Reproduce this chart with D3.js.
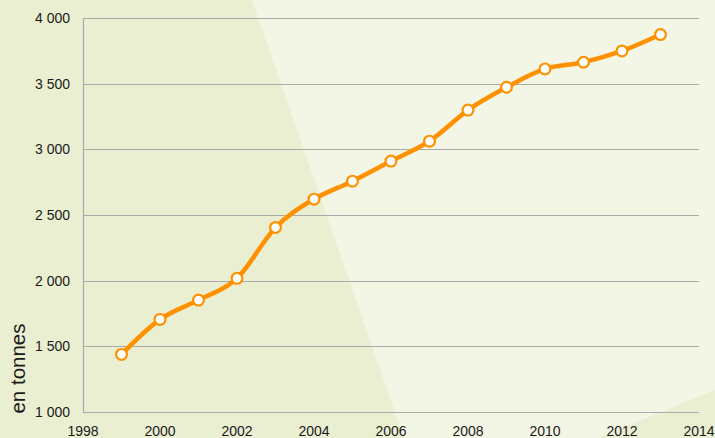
<!DOCTYPE html>
<html><head><meta charset="utf-8">
<script src="https://cdn.jsdelivr.net/npm/d3@7"></script>
<style>body{margin:0;background:#f3f6e4;}svg{display:block;}</style>
</head><body>
<svg id="c" width="715" height="438"></svg>
<script>
const years = [1999,2000,2001,2002,2003,2004,2005,2006,2007,2008,2009,2010,2011,2012,2013];
const values = [1437,1704,1851,2017,2405,2621,2758,2911,3063,3300,3474,3614,3665,3751,3876];
const yTicks = [1000,1500,2000,2500,3000,3500,4000];
const xTicks = [1998,2000,2002,2004,2006,2008,2010,2012,2014];
const yTitle = "en tonnes";

const svg = d3.select("#c");
const W = 715, H = 438;
const m = {l:83, r:16, t:18.3, b:26.3};
const x = d3.scaleLinear().domain([1998,2014]).range([m.l, W-m.r]);
const y = d3.scaleLinear().domain([1000,4000]).range([H-m.b, m.t]);

// background
svg.append("rect").attr("width",W).attr("height",H).attr("fill","#f3f6e4");
svg.append("polygon").attr("points","0,0 252,0 404,438 0,438").attr("fill","#eaefd2");
svg.append("polygon").attr("points","715,390 715,438 598,438").attr("fill","#eaefd2");

// grid
svg.append("g").selectAll("line").data(yTicks).join("line")
  .attr("x1",m.l).attr("x2",W-m.r)
  .attr("y1",d=>Math.round(y(d))+0.5).attr("y2",d=>Math.round(y(d))+0.5)
  .attr("stroke","#aaaaaa").attr("stroke-width",1.2);
svg.append("line").attr("x1",m.l+0.5).attr("x2",m.l+0.5)
  .attr("y1",y(4000)).attr("y2",y(1000)).attr("stroke","#aaaaaa").attr("stroke-width",1.2);

// y labels
svg.append("g").selectAll("text").data(yTicks).join("text")
  .attr("x",70).attr("y",d=>y(d)+5).attr("text-anchor","end")
  .attr("font-family","Liberation Sans, Arial, sans-serif").attr("font-size",14)
  .attr("fill","#1a1a1a").text(d=>d3.format(",")(d).replace(","," "));
// x labels
svg.append("g").selectAll("text").data(xTicks).join("text")
  .attr("x",d=>x(d)).attr("y",435.5).attr("text-anchor","middle")
  .attr("font-family","Liberation Sans, Arial, sans-serif").attr("font-size",14)
  .attr("fill","#1a1a1a").text(d=>d);
// y title
svg.append("text").attr("transform","translate(24.5,368.5) rotate(-90)")
  .attr("text-anchor","middle").attr("font-family","Liberation Sans, Arial, sans-serif")
  .attr("font-size",20.5).attr("fill","#1a1a1a").text(yTitle);

const data = years.map((d,i)=>({x:d,y:values[i]}));
const line = d3.line().x(d=>x(d.x)).y(d=>y(d.y)).curve(d3.curveMonotoneX);
svg.append("path").attr("d",line(data)).attr("fill","none")
  .attr("stroke","#ff9100").attr("stroke-width",4.5).attr("stroke-linejoin","round");
svg.append("g").selectAll("circle").data(data).join("circle")
  .attr("cx",d=>x(d.x)).attr("cy",d=>y(d.y)).attr("r",5.4)
  .attr("fill","#ffffff").attr("stroke","#ff9100").attr("stroke-width",2.2);
</script>
</body></html>
